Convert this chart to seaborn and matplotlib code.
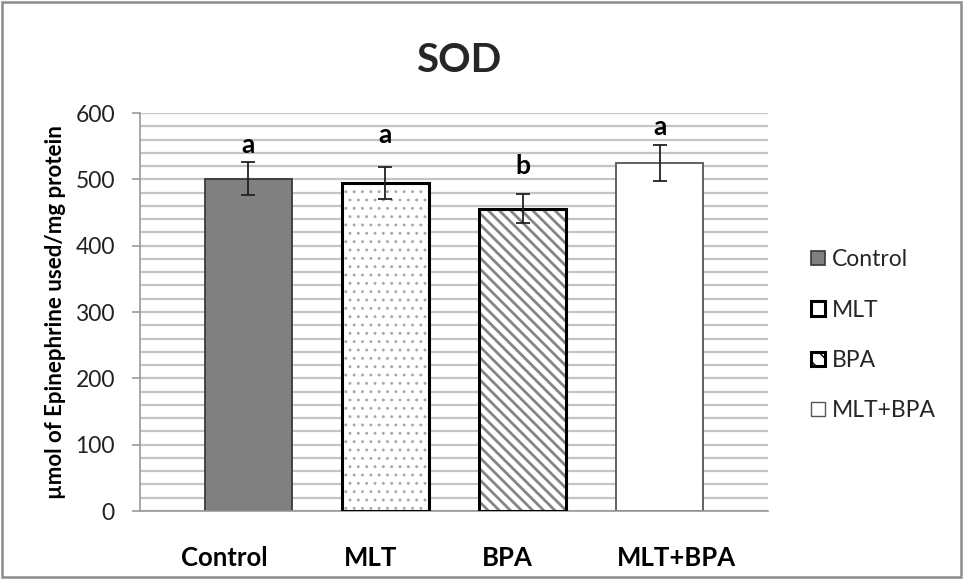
import matplotlib
matplotlib.use("Agg")
import matplotlib.pyplot as plt
from matplotlib.patches import Patch, Rectangle
from matplotlib.ticker import MultipleLocator
from matplotlib.transforms import ScaledTranslation
import seaborn as sns
import pandas as pd
import numpy as np

# ---- data ----
categories = ["Control", "MLT", "BPA", "MLT+BPA"]
values = [501, 495, 456, 525]
errors = [25, 24, 22, 27]
letters = ["a", "a", "b", "a"]
letter_y = [540, 555, 508, 567]
title = "SOD"
ylabel = "µmol of Epinephrine used/mg protein"

sns.set_theme(style="white")
plt.rcParams["font.family"] = ["Lato", "DejaVu Sans"]

fig = plt.figure(figsize=(9.64, 5.79), dpi=100)
ax = fig.add_axes([0.1452, 0.1174, 0.6515, 0.6874])

df = pd.DataFrame({"group": categories, "value": values})
fills = ["#808080", "white", "white", "white"]
sns.barplot(data=df, x="group", y="value", hue="group", palette=fills,
            order=categories, hue_order=categories, width=0.635,
            errorbar=None, legend=False, ax=ax, zorder=2)


def set_hlw(p, lw):
    if hasattr(p, "set_hatch_linewidth"):
        p.set_hatch_linewidth(lw)
    else:
        p._hatch_linewidth = lw


hatches = [None, "..", "\\\\\\", None]
hatch_cols = [None, "#a8a8a8", "#858585", None]
hatch_lws = [0, 0.9, 2.0, 0]
edge_cols = ["#3a3a3a", "black", "black", "#555555"]
edge_lws = [1.3, 2.2, 2.2, 1.3]
patches = list(ax.patches)
for p, h, hc, hlw, ec, lw in zip(patches, hatches, hatch_cols, hatch_lws, edge_cols, edge_lws):
    p.set_edgecolor(ec)
    p.set_linewidth(lw)
    if h:
        p.set_hatch(h)
        p.set_edgecolor(hc)
        p.set_linewidth(0)
        set_hlw(p, hlw)
        outline = Rectangle(p.get_xy(), p.get_width(), p.get_height(),
                            fill=False, edgecolor=ec, linewidth=lw, zorder=3)
        ax.add_patch(outline)

xpos = np.arange(len(categories))
ax.errorbar(xpos, values, yerr=errors, fmt="none", ecolor="#222222",
            elinewidth=1.3, capsize=4.7, capthick=1.3, zorder=4)

for x, t, ly in zip(xpos, letters, letter_y):
    ax.text(x, ly, t, ha="center", va="baseline", fontsize=19,
            fontweight="bold", color="black")

ax.set_xlim(-0.79, 3.79)
ax.set_ylim(0, 600)
ax.yaxis.set_major_locator(MultipleLocator(100))
ax.yaxis.set_minor_locator(MultipleLocator(20))
ax.grid(True, axis="y", which="both", color="#c4c4c4", linewidth=1.6, zorder=0)
ax.set_axisbelow(True)
for s in ["top", "right"]:
    ax.spines[s].set_visible(False)
for s in ["left", "bottom"]:
    ax.spines[s].set_color("#999999")
    ax.spines[s].set_linewidth(1.2)
ax.tick_params(axis="y", which="major", left=True, length=6, width=1.2,
               color="#999999", labelsize=16.5, pad=12, labelcolor="#222222")
ax.tick_params(axis="y", which="minor", left=False)
ax.tick_params(axis="x", bottom=False, labelsize=18.5, pad=19, labelcolor="black")
# horizontal shifts (pixels) of the category labels as drawn in the original
label_dx_px = [-24, -14.5, -15.5, 17]
for lab, dx in zip(ax.get_xticklabels(), label_dx_px):
    lab.set_fontweight("bold")
    lab.set_transform(lab.get_transform() + ScaledTranslation(dx / 100, 0, fig.dpi_scale_trans))
ax.set_xlabel("")
ax.set_ylabel(ylabel, fontsize=16, fontweight="bold", labelpad=7, color="black")

fig.text(0.476, 0.896, title, ha="center", va="center", fontsize=29, fontweight="bold")

handles = [
    Patch(facecolor="#808080", edgecolor="#3a3a3a", linewidth=1.2),
    Patch(facecolor="white", edgecolor="black", linewidth=2.2),
    Patch(facecolor="white", edgecolor="black", linewidth=2.2, hatch="\\\\"),
    Patch(facecolor="white", edgecolor="#555555", linewidth=1.0),
]
leg = fig.legend(handles, categories, loc="center left", bbox_to_anchor=(0.82, 0.421),
                 frameon=False, fontsize=16.5, handlelength=0.6, handleheight=0.6,
                 handletextpad=0.3, labelspacing=1.28)

fig.patches.append(Rectangle((0.002, 0.004), 0.995, 0.992, transform=fig.transFigure,
                             fill=False, edgecolor="#8c8c8c", linewidth=1.8))

fig.savefig("out.png", dpi=100, facecolor="white")
